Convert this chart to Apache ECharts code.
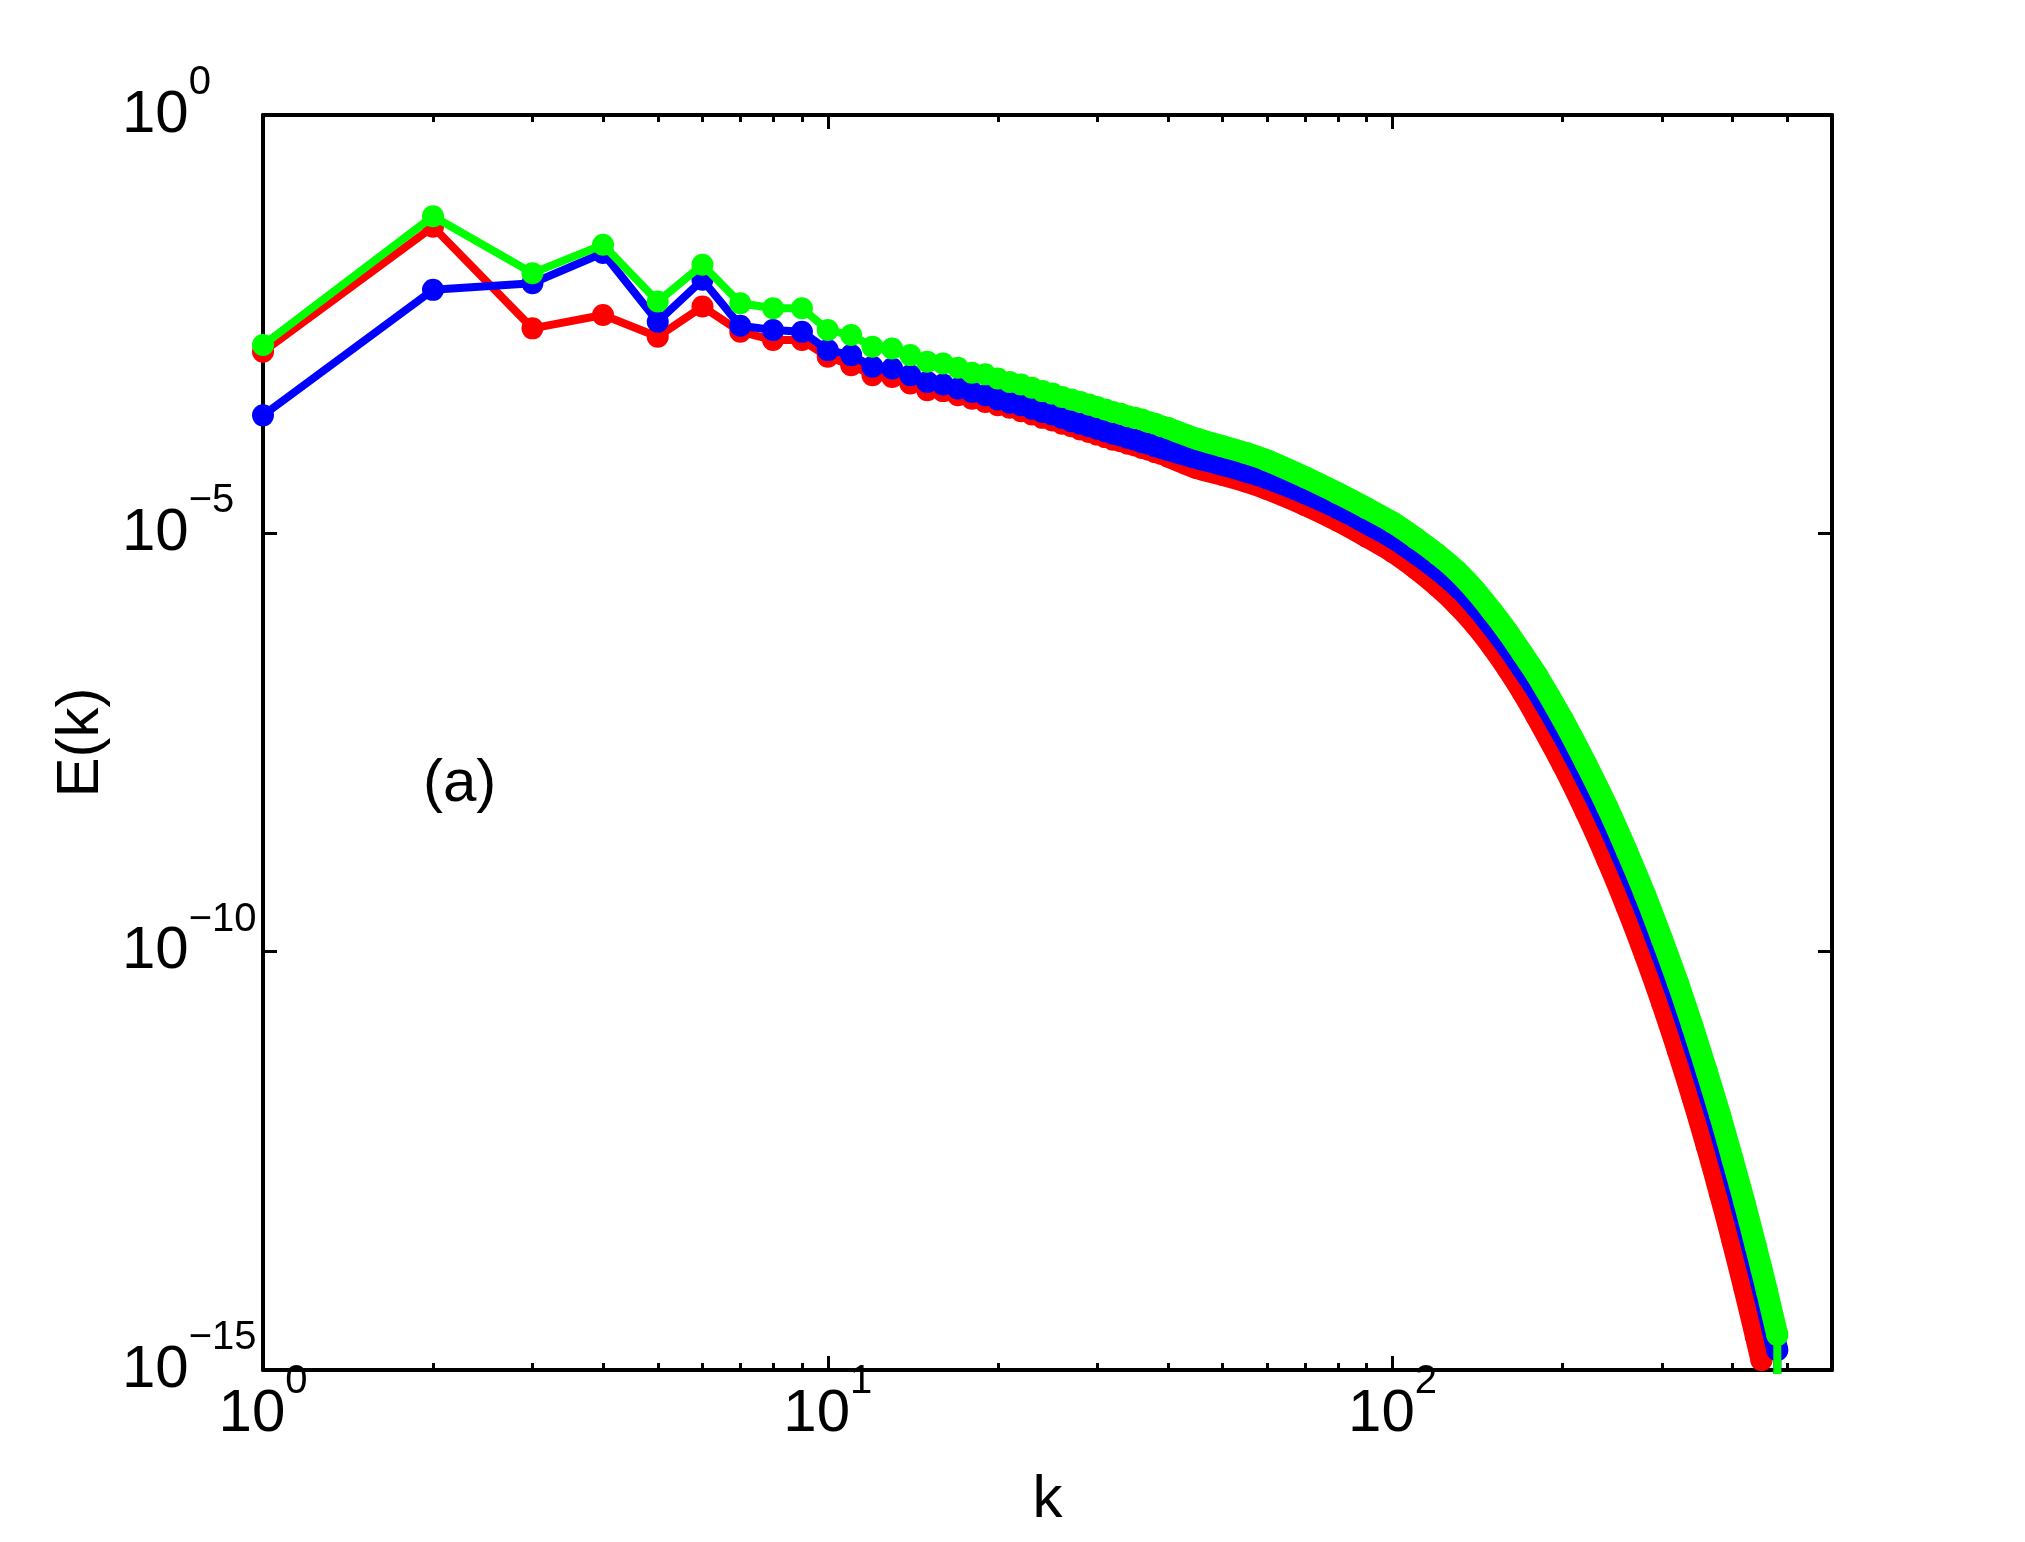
<!DOCTYPE html>
<html>
<head>
<meta charset="utf-8">
<title>E(k)</title>
<script src="https://cdn.jsdelivr.net/npm/echarts@6/dist/echarts.min.js"></script>
<style>
html, body { margin: 0; padding: 0; background: #fff; }
#main { width: 2025px; height: 1542px; }
</style>
</head>
<body>
<div id="main"></div>
<script>
// wavenumbers where values were read (every k up to 40, then sampled)
var kVals = [1,2,3,4,5,6,7,8,9,10,11,12,13,14,15,16,17,18,19,20,
    21,22,23,24,25,26,27,28,29,30,31,32,33,34,35,36,37,38,39,40,
    45,50,55,60,70,80,90,100,110,120,130,140,150,160,170,180,
    200,220,240,260,280,300,320,340,360,380,400,420,440,450,460,480,481];

// exponents of E(k) (E = 10^value)
var expRed = [-2.83,-1.335,-2.55,-2.39,-2.65,-2.29,-2.59,-2.69,-2.69,-2.89,-2.99,-3.11,-3.13,-3.21,-3.29,
    -3.30,-3.35,-3.39,-3.43,-3.47,-3.50,-3.54,-3.58,-3.62,-3.65,-3.69,-3.72,-3.76,-3.79,-3.82,
    -3.85,-3.88,-3.90,-3.93,-3.95,-3.98,-4.00,-4.03,-4.05,-4.08,
    -4.22,-4.30,-4.38,-4.47,
    -4.66,-4.85,-5.04,-5.22,-5.42,-5.63,-5.85,-6.09,-6.35,-6.62,-6.90,-7.19,
    -7.76,-8.33,-8.90,-9.47,-10.04,-10.61,-11.18,-11.75,-12.32,-12.89,-13.46,-14.03,
    -14.60,-14.88,null,null,null];
var expBlue = [-3.59,-2.09,-2.01,-1.65,-2.47,-1.97,-2.52,-2.57,-2.59,-2.81,-2.87,-3.01,-3.03,-3.11,-3.19,
    -3.22,-3.27,-3.31,-3.35,-3.40,-3.44,-3.47,-3.51,-3.55,-3.58,-3.62,-3.66,-3.69,-3.72,-3.75,
    -3.78,-3.81,-3.83,-3.86,-3.88,-3.91,-3.93,-3.96,-3.98,-4.00,
    -4.10,-4.18,-4.26,-4.34,
    -4.52,-4.70,-4.88,-5.05,-5.24,-5.43,-5.63,-5.86,-6.11,-6.36,-6.62,-6.87,
    -7.40,-7.93,-8.45,-8.98,-9.50,-10.03,-10.55,-11.08,-11.61,-12.13,-12.66,-13.18,
    -13.71,-13.97,-14.23,-14.76,-17];
var expGreen = [-2.75,-1.21,-1.89,-1.55,-2.23,-1.79,-2.25,-2.31,-2.31,-2.57,-2.63,-2.77,-2.79,-2.87,-2.95,
    -2.97,-3.02,-3.08,-3.10,-3.15,-3.19,-3.22,-3.26,-3.30,-3.33,-3.37,-3.40,-3.43,-3.46,-3.49,
    -3.52,-3.55,-3.57,-3.60,-3.62,-3.64,-3.67,-3.69,-3.72,-3.74,
    -3.87,-3.96,-4.04,-4.13,
    -4.33,-4.52,-4.70,-4.87,-5.06,-5.25,-5.45,-5.68,-5.93,-6.18,-6.44,-6.69,
    -7.22,-7.75,-8.27,-8.80,-9.32,-9.85,-10.37,-10.90,-11.43,-11.95,-12.48,-13.00,
    -13.53,-13.79,-14.05,-14.58,-17];

var xMajor = [1, 10, 100];
var xMinor = [2,3,4,5,6,7,8,9,20,30,40,50,60,70,80,90,200,300,400,500];
var yMajor = [1e-15, 1e-10, 1e-5, 1];

var FONT = 'Liberation Sans';

function points(exps, kMin) {
    var out = [];
    for (var i = 0; i < kVals.length; i++) {
        if (exps[i] == null) continue;
        if (kMin && (kVals[i] < kMin || exps[i] < -16)) continue;
        out.push([kVals[i], Math.pow(10, exps[i])]);
    }
    return out;
}

function powLabel(v) {
    var e = Math.round(Math.log10(v));
    var s = e < 0 ? '\u2212' + (-e) : '' + e;
    return '{b|10}{s|' + s + '}';
}

var rich = {
    b: { fontSize: 60, lineHeight: 60, fontFamily: FONT, color: '#000' },
    s: { fontSize: 40, lineHeight: 40, fontFamily: FONT, color: '#000', padding: [0, 0, 64, 0] }
};

function xAxisDef(pos, ticks, len, main) {
    return {
        type: 'log', position: pos, min: 1, max: 600, logBase: 10,
        axisLine: { show: main, lineStyle: { color: '#000', width: 4 } },
        axisTick: { show: true, inside: true, length: len, customValues: ticks, lineStyle: { color: '#000', width: 3 } },
        axisLabel: (pos == 'bottom' && main) ? { show: true, customValues: xMajor, formatter: powLabel, rich: rich, margin: 14 } : { show: false },
        splitLine: { show: false },
        name: (pos == 'bottom' && main) ? 'k' : '',
        nameLocation: 'middle', nameGap: 80,
        nameTextStyle: { fontSize: 60, fontFamily: FONT, color: '#000' }
    };
}

function yAxisDef(pos) {
    return {
        type: 'log', position: pos, min: 1e-15, max: 1, logBase: 10,
        axisLine: { show: true, lineStyle: { color: '#000', width: 4 } },
        axisTick: { show: true, inside: true, length: 14, customValues: yMajor, lineStyle: { color: '#000', width: 3 } },
        // MATLAB keeps the "10" of every label in one column
        axisLabel: pos == 'left' ? { show: true, customValues: yMajor, formatter: powLabel, rich: rich, margin: 141, align: 'left' } : { show: false },
        splitLine: { show: false },
        name: pos == 'left' ? 'E(k)' : '',
        nameLocation: 'middle', nameGap: 131,
        nameTextStyle: { fontSize: 60, fontFamily: FONT, color: '#000' }
    };
}

var lines = [
    { name: 'red', color: '#ff0000', exps: expRed },
    { name: 'blue', color: '#0000ff', exps: expBlue },
    { name: 'green', color: '#00ff00', exps: expGreen }
];

var series = [];
lines.forEach(function (l, i) {
    // markers joined by the line
    series.push({
        name: l.name, type: 'line', data: points(l.exps),
        symbol: 'circle', symbolSize: 22, showSymbol: true,
        lineStyle: { color: l.color, width: 8 },
        itemStyle: { color: l.color },
        z: 2 + i * 2, silent: true, emphasis: { disabled: true }
    });
    // at high k the markers merge into one thick band
    series.push({
        name: l.name + ' band', type: 'line', data: points(l.exps, 40),
        symbol: 'none', smooth: 0.25,
        lineStyle: { color: l.color, width: 22, cap: 'round', join: 'round' },
        z: 3 + i * 2, silent: true, emphasis: { disabled: true }
    });
});

var option = {
    backgroundColor: '#fff',
    animation: false,
    grid: { left: 263, right: 193, top: 115, bottom: 172, containLabel: false },
    xAxis: [
        xAxisDef('bottom', xMajor, 14, true),
        xAxisDef('bottom', xMinor, 7, false),
        xAxisDef('top', xMajor, 14, true),
        xAxisDef('top', xMinor, 7, false)
    ],
    yAxis: [yAxisDef('left'), yAxisDef('right')],
    series: series
};

var chart = echarts.init(document.getElementById('main'));
chart.setOption(option);

// panel tag, anchored at k = 2, E = 1e-8
var tagPos = chart.convertToPixel({ xAxisIndex: 0, yAxisIndex: 0 }, [2, 1e-8]);
chart.setOption({
    graphic: [{
        type: 'text', x: tagPos[0] - 10, y: tagPos[1], silent: true, z: 20,
        style: { text: '(a)', fontSize: 60, fontFamily: FONT, fill: '#000', textVerticalAlign: 'middle', verticalAlign: 'middle' }
    }]
});
</script>
</body>
</html>
